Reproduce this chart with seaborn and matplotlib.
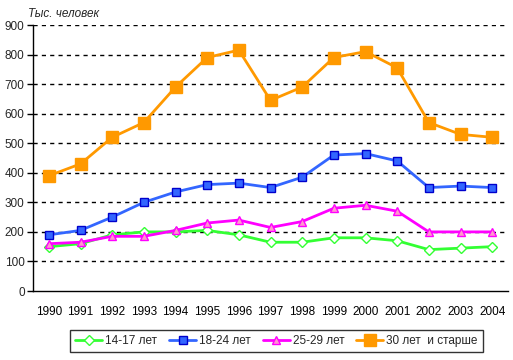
import matplotlib
matplotlib.use('Agg')
import matplotlib.pyplot as plt
import numpy as np
import pandas as pd
import seaborn as sns

sns.set_style('white')
plt.rcParams['font.family'] = ['Liberation Sans', 'DejaVu Sans']

years = [str(y) for y in range(1990, 2005)]
age_14_17 = [150, 160, 190, 200, 200, 205, 190, 165, 165, 180, 180, 170, 140, 145, 150]
age_18_24 = [190, 205, 250, 300, 335, 360, 365, 350, 385, 460, 465, 440, 350, 355, 350]
age_25_29 = [160, 165, 185, 185, 205, 230, 240, 215, 235, 280, 290, 270, 200, 200, 200]
age_30_up = [390, 430, 520, 570, 690, 790, 815, 645, 690, 790, 810, 755, 570, 530, 520]
labels = ['14-17 лет', '18-24 лет', '25-29 лет', '30 лет  и старше']

styles = [
    dict(color='#33FF33', marker='D', markersize=5, markerfacecolor='white', markeredgecolor='#33FF33', markeredgewidth=1),
    dict(color='#3366FF', marker='s', markersize=6, markerfacecolor='#3366FF', markeredgecolor='#0000CC', markeredgewidth=1),
    dict(color='#FF00FF', marker='^', markersize=6, markerfacecolor='#FF99CC', markeredgecolor='#FF00FF', markeredgewidth=1),
    dict(color='#FF9900', marker='s', markersize=9, markerfacecolor='#FF9900', markeredgecolor='#FF9900', markeredgewidth=1),
]

fig = plt.figure(figsize=(5.13, 3.6), dpi=100)
ax = fig.add_axes([33/513, 1-291/360, 475/513, 266/360])

x = np.arange(len(years))
for vals, lab, st in zip([age_14_17, age_18_24, age_25_29, age_30_up], labels, styles):
    df = pd.DataFrame({'x': x, 'y': vals})
    sns.lineplot(data=df, x='x', y='y', ax=ax, label=lab, linewidth=2, **st)

ax.set_xlim(-0.5, len(years) - 0.5)
ax.set_ylim(0, 900)
ax.set_yticks(range(0, 1000, 100))
ax.set_xticks(x)
ax.set_xticklabels(years)
ax.set_xticks(np.arange(-0.5, len(years), 1), minor=True)
ax.tick_params(axis='x', which='major', length=0, pad=11, labelsize=8.5, colors='black')
ax.tick_params(axis='x', which='minor', length=4, width=1, direction='out', color='black')
ax.tick_params(axis='y', length=4, width=1, direction='out', labelsize=8.5, pad=2, color='black', left=True)
ax.set_xlabel('')
ax.set_ylabel('')
for v in range(100, 1000, 100):
    ax.axhline(v, color='black', linestyle=(0, (3, 3)), linewidth=1, zorder=0)
for s in ['top', 'right']:
    ax.spines[s].set_visible(False)
for s in ['left', 'bottom']:
    ax.spines[s].set_color('black')
    ax.spines[s].set_linewidth(1)

fig.text(28/513, 1-14/360, 'Тыс. человек', fontsize=8.5, style='italic', va='center', ha='left')

leg = ax.legend(loc='center', bbox_to_anchor=((276.5-33)/475, (291-341)/266), ncol=4, fontsize=8.5,
                frameon=True, fancybox=False, edgecolor='black', handlelength=2.3,
                columnspacing=1.0, handletextpad=0.25, borderpad=0.4, borderaxespad=0)
leg.get_frame().set_linewidth(1)

fig.savefig('out.png', dpi=100)
